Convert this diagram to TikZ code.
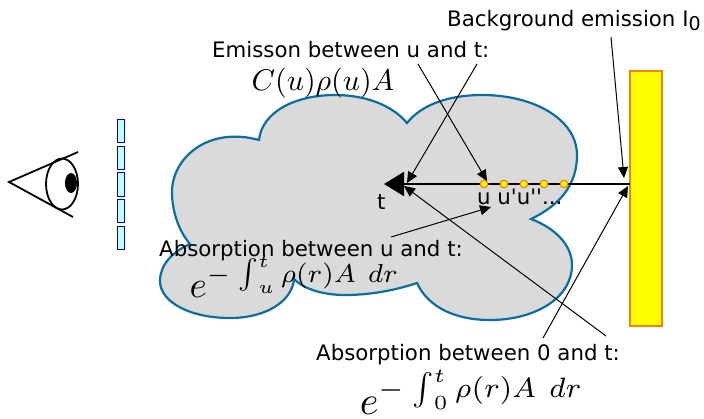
\documentclass[tikz,border=0pt]{standalone}
\usepackage{fontspec}
\setmainfont{DejaVu Sans}
\newfontfamily\rawfont{DejaVu Sans}
\usetikzlibrary{arrows.meta}
\definecolor{cloudline}{RGB}{10,110,160}
\definecolor{cloudfill}{RGB}{218,218,218}
\definecolor{bgyellow}{RGB}{255,255,0}
\definecolor{bgorange}{RGB}{255,128,0}
\definecolor{filterfill}{RGB}{190,255,255}
\newcommand{\lowint}{\scalebox{0.8}{$\int$}}
\begin{document}
\begin{tikzpicture}[x=1pt, y=-1pt,
    label/.style={font=\fontsize{21.3}{25}\selectfont, inner sep=0pt, anchor=base west},
    formula/.style={inner sep=0pt, anchor=base west},
    filter/.style={rectangle, draw=blue, fill=filterfill, line width=1pt, minimum width=7.5pt, minimum height=23.5pt, inner sep=0pt},
    sample/.style={circle, draw=bgorange, fill=bgyellow, line width=1.2pt, minimum size=7.5pt, inner sep=0pt},
    pointer/.style={-{Triangle[length=11pt,width=10pt]}, line width=1pt}
]
\useasboundingbox (0,0) rectangle (704,418);

% Cloud
\draw[fill=cloudfill, draw=cloudline, line width=2.2pt]
    (259,140) .. controls (262,112) and (295,95) .. (335,95)
    .. controls (365,95) and (392,105) .. (407,123)
    .. controls (422,104) and (450,95) .. (482,95)
    .. controls (535,95) and (577,120) .. (577,155)
    .. controls (577,185) and (560,205) .. (531,219)
    .. controls (555,228) and (572,245) .. (572,265)
    .. controls (572,298) and (535,320) .. (490,320)
    .. controls (455,320) and (428,307) .. (417,283)
    .. controls (390,292) and (365,295) .. (345,295)
    .. controls (325,295) and (305,290) .. (294,279)
    .. controls (292,302) and (265,318) .. (230,318)
    .. controls (190,318) and (160,302) .. (160,281)
    .. controls (160,265) and (172,252) .. (190,244)
    .. controls (178,230) and (172,210) .. (172,192)
    .. controls (172,158) and (208,126) .. (259,140) -- cycle;

% Eye
\draw[line width=1.8pt] (78,152) -- (9,182) -- (73,217);
\draw[line width=1.8pt] (62,184) ellipse (16 and 25.5);
\fill (71,183) ellipse (6 and 10);

% Filters
\foreach \i/\y in {1/131, 2/158, 3/184.5, 4/211, 5/238}
    \node[filter] (f\i) at (121,\y) {};

% Background
\node[rectangle, draw=bgorange, fill=bgyellow, line width=2pt, minimum width=32pt, minimum height=255pt, inner sep=0pt] (bg) at (646,198.5) {};

% Line of sight
\coordinate (tip) at (384,184);
\coordinate (start) at (630,184);
\draw[-{Triangle[length=20pt,width=24pt]}, line width=2pt] (start) -- (tip);
\foreach \i/\x in {0/484, 1/504, 2/524, 3/544, 4/564}
    \node[sample] (u\i) at (\x,184) {};

% Labels
\node[label] (lbg) at (447,26) {Background emission I\raisebox{-4pt}{\fontsize{19}{19}\selectfont 0}};
\node[label] (lem) at (212,57) {Emisson between u and t:};
\node[formula, scale=3] (fem) at (251,90) {$C(u)\rho(u)A$};
\node[label] (lab) at (159,256) {Absorption between u and t:};
\node[formula, scale=3.7] (fab) at (189,297) {$e^{-\;\lowint_u^t\,\rho(r)A\ dr}$};
\node[label] (lzero) at (316,360) {Absorption between 0 and t:};
\node[formula, scale=4] (fzero) at (359,414) {$e^{-\;\lowint_0^t\,\rho(r)A\ dr}$};
\node[label] (lt) at (377,209) {t};
\node[label] (lu) at (477,204) {\rawfont u u'u''...};

% Pointers
\coordinate (a1) at (418,64);
\coordinate (b1) at (487,181);
\coordinate (a2) at (477,64);
\coordinate (b2) at (407,183);
\coordinate (a3) at (611,37);
\coordinate (b3) at (624,178);
\coordinate (a4) at (391,237);
\coordinate (b4) at (491,207);
\coordinate (a5) at (606,336);
\coordinate (b5) at (404,186);
\coordinate (a6) at (543,338);
\coordinate (b6) at (628,186);
\foreach \i in {1,...,6}
    \draw[pointer] (a\i) -- (b\i);
\end{tikzpicture}
\end{document}
